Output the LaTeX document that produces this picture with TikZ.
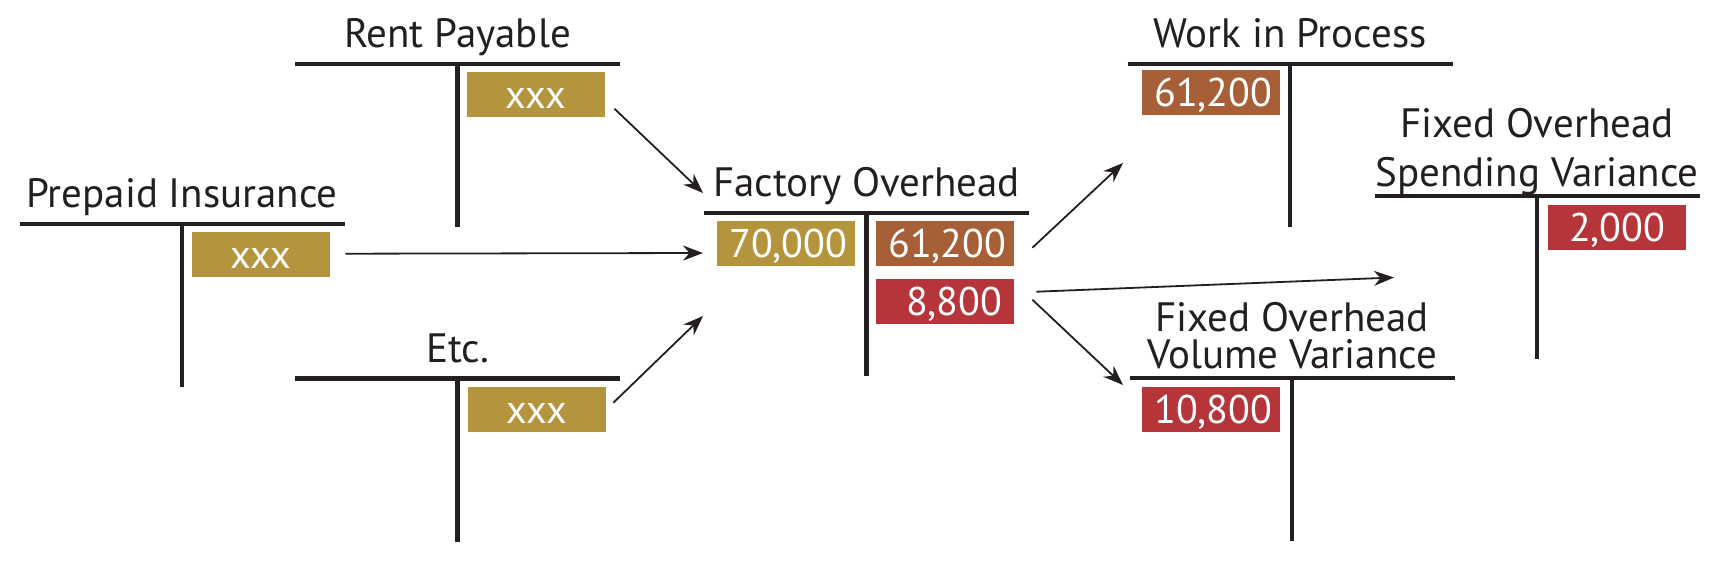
\documentclass[tikz,border=0pt]{standalone}
\usepackage{fontspec}
\setmainfont{PT Sans}
\usetikzlibrary{arrows.meta,positioning}
\definecolor{gold}{HTML}{B4953E}
\definecolor{rust}{HTML}{A65F36}
\definecolor{crimson}{HTML}{B6353A}
\definecolor{ink}{HTML}{231F20}
\tikzset{
  tline/.style={draw=ink, line width=4.5pt},
  title/.style={font=\fontsize{41}{46}\selectfont, text=ink, anchor=base, inner sep=0pt, align=center},
  amt/.style={font=\fontsize{40}{44}\selectfont, text=white, text width=114pt, inner xsep=12pt, inner ysep=0pt,
              minimum height=45pt, text height=28pt, text depth=0pt, align=center, anchor=north west},
  flow/.style={draw=ink, line width=1.8pt, -{Stealth[length=20pt,width=15pt]}}
}

\begin{document}
\begin{tikzpicture}[x=1pt,y=-1pt]
\fill[white] (0,0) rectangle (1721,568);
\useasboundingbox (0,0) rectangle (1721,568);
% T-accounts
\draw[tline] (295,64) -- (620,64) (457.5,64) -- (457.5,227);
\draw[tline] (19.5,224) -- (344.5,224) (182,224) -- (182,387);
\draw[tline] (295,378.5) -- (620,378.5) (457.5,378.5) -- (457.5,541.5);
\draw[tline] (704,213) -- (1029,213) (866.5,213) -- (866.5,376);
\draw[tline] (1127.5,64) -- (1452.5,64) (1290,64) -- (1290,227);
\draw[tline] (1129.5,378) -- (1454.5,378) (1292,378) -- (1292,541);
\draw[tline] (1374.5,196) -- (1699.5,196) (1537,196) -- (1537,359);
\node[title] (rent) at (457.5,47) {Rent Payable};
\node[title] (prepaid) at (182,207) {Prepaid Insurance};
\node[title] (etc) at (457.5,362) {Etc.};
\node[title] (fo) at (866.5,196) {Factory Overhead};
\node[title] (wip) at (1290,47) {Work in Process};
\node[title] (vol) at (1292,368.5) {Fixed Overhead\\[-9pt]Volume Variance};
\node[title] (spend) at (1537,186) {Fixed Overhead\\[3pt]Spending Variance};
% amounts
\node[amt, fill=gold] (rentamt) at (467,72) {xxx};
\node[amt, fill=gold] (prepaidamt) at (192,232) {xxx};
\node[amt, fill=gold] (etcamt) at (468,387) {xxx};
\node[amt, fill=gold] (fodr) at (717,221) {70,000};
\node[amt, fill=rust] (focr1) at (876,221) {61,200};
\node[amt, fill=crimson, align=right] (focr2) at (876,279) {8,800};
\node[amt, fill=rust] (wipamt) at (1142,70) {61,200};
\node[amt, fill=crimson] (volamt) at (1142,387) {10,800};
\node[amt, fill=crimson] (spendamt) at (1548,205) {2,000};
% flows
\coordinate (foin1) at (703,193);
\coordinate (foin2) at (703,253);
\coordinate (foin3) at (703,316);
\coordinate (wipin) at (1123,163);
\coordinate (spendin) at (1394,277.5);
\coordinate (volin) at (1123,385);
\draw[flow] ([xshift=9pt,yshift=-14pt]rentamt.east) -- (foin1);
\draw[flow] ([xshift=15pt,yshift=1pt]prepaidamt.east) -- (foin2);
\draw[flow] ([xshift=7pt,yshift=7pt]etcamt.east) -- (foin3);
\draw[flow] ([xshift=18pt,yshift=-4pt]focr1.east) -- (wipin);
\draw[flow] ([xshift=22pt,yshift=10pt]focr2.east) -- (spendin);
\draw[flow] ([xshift=18pt,yshift=2pt]focr2.east) -- (volin);
\end{tikzpicture}
\end{document}
